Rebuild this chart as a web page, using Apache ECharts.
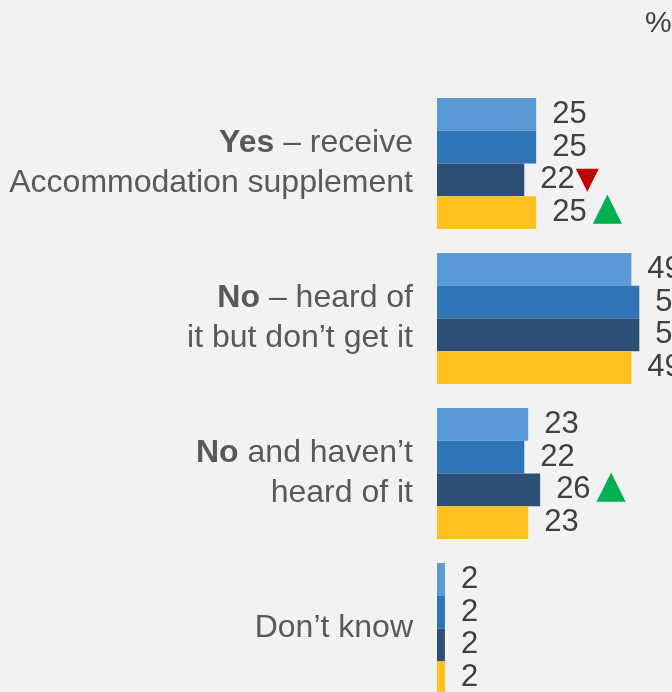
<!DOCTYPE html>
<html>
<head>
<meta charset="utf-8">
<script src="https://cdn.jsdelivr.net/npm/echarts@6/dist/echarts.min.js"></script>
<style>
  html, body { margin: 0; padding: 0; background: #f2f2f2; }
  #chart { width: 672px; height: 692px; }
</style>
</head>
<body>
<div id="chart"></div>
<script>
// Category labels (rich markup: {b|...} is bold)
const categories = [
  '{b|Yes} – receive\nAccommodation supplement',
  '{b|No} – heard of\nit but don’t get it',
  '{b|No} and haven’t\nheard of it',
  'Don’t know'
];

// Percentages per wave, one array per series
const wave1 = [25, 49, 23, 2];
const wave2 = [25, 51, 22, 2];
const wave3 = [22, 51, 26, 2];
const wave4 = [25, 49, 23, 2];

// Significant change markers per series ('up', 'down' or '')
const change1 = ['', '', '', ''];
const change2 = ['', '', '', ''];
const change3 = ['down', '', 'up', ''];
const change4 = ['up', '', '', ''];

const seriesColors = ['#5b9bd5', '#2e75b6', '#2e4f75', '#ffc020'];

const chart = echarts.init(document.getElementById('chart'), null, { renderer: 'canvas' });

const FONT = 'Liberation Sans, Arial, sans-serif';

function makeSeries(name, values, changes, color) {
  return {
    name: name,
    type: 'bar',
    data: values,
    barGap: '0%',
    barCategoryGap: '15.5%',
    itemStyle: { color: color },
    label: {
      show: true,
      position: 'right',
      distance: 16,
      formatter: function (p) {
        const c = changes[p.dataIndex];
        if (c === 'up') return '{v|' + p.value + '}{up|▲}';
        if (c === 'down') return '{v|' + p.value + '}{down|▼}';
        return '{v|' + p.value + '}';
      },
      rich: {
        v: { fontSize: 31, color: '#404040', fontFamily: FONT },
        up: { fontSize: 38, color: '#00b050', fontFamily: 'DejaVu Sans', padding: [0, 0, 6, 6] },
        down: { fontSize: 30, color: '#c00000', fontFamily: 'DejaVu Sans', padding: [0, 0, 0, 1] }
      }
    }
  };
}

chart.setOption({
  backgroundColor: '#f2f2f2',
  animation: false,
  grid: { left: 437, top: 86, width: 238, height: 620, containLabel: false, outerBoundsMode: 'none' },
  xAxis: {
    type: 'value',
    min: 0,
    max: 60,
    show: false
  },
  yAxis: {
    type: 'category',
    data: categories,
    inverse: true,
    axisLine: { show: false },
    axisTick: { show: false },
    splitLine: { show: false },
    axisLabel: {
      margin: 24,
      align: 'right',
      fontSize: 32,
      lineHeight: 40,
      color: '#595959',
      fontFamily: FONT,
      rich: {
        b: { fontWeight: 'bold', fontSize: 32, color: '#595959', fontFamily: FONT, lineHeight: 40 }
      }
    }
  },
  graphic: [{
    type: 'text',
    left: 645,
    top: 9,
    style: { text: '%', fontSize: 30, fill: '#404040', fontFamily: FONT }
  }],
  series: [
    makeSeries('Wave 1', wave1, change1, seriesColors[0]),
    makeSeries('Wave 2', wave2, change2, seriesColors[1]),
    makeSeries('Wave 3', wave3, change3, seriesColors[2]),
    makeSeries('Wave 4', wave4, change4, seriesColors[3])
  ]
});
</script>
</body>
</html>
